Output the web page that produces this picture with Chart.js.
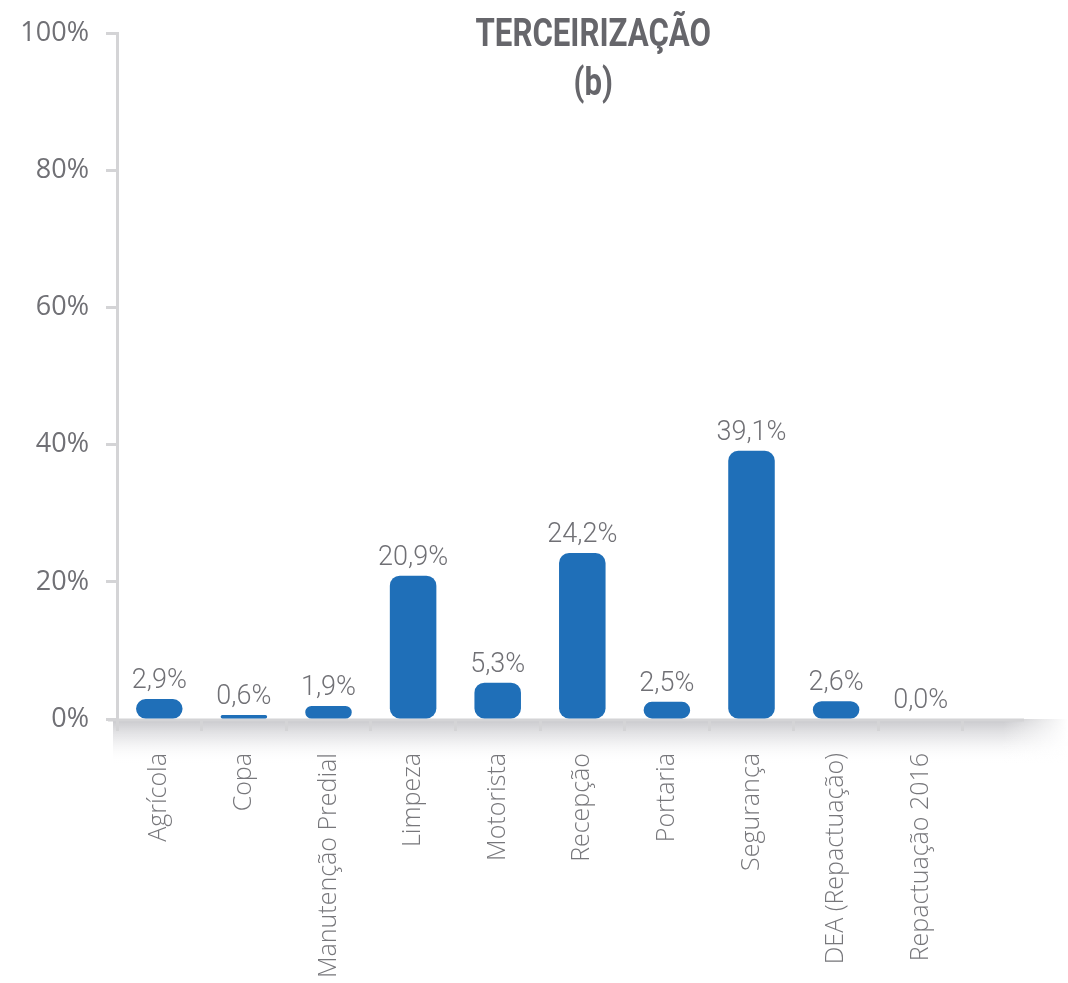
<!DOCTYPE html>
<html>
<head>
<meta charset="utf-8">
<title>Terceirização (b)</title>
<script src="https://cdn.jsdelivr.net/npm/chart.js@4.4.1/dist/chart.umd.min.js"></script>
<style>
  html, body { margin: 0; padding: 0; background: #fff; }
  #wrap { width: 1068px; height: 983px; position: relative; }
</style>
</head>
<body>
<div id="wrap"><canvas id="chart"></canvas></div>
<script>
const categories = ['Agrícola', 'Copa', 'Manutenção Predial', 'Limpeza', 'Motorista',
  'Recepção', 'Portaria', 'Segurança', 'DEA (Repactuação)', 'Repactuação 2016'];
const shares = [2.9, 0.6, 1.9, 20.9, 5.3, 24.2, 2.5, 39.1, 2.6, 0.0];
const yTicks = [0, 20, 40, 60, 80, 100];
const titleLines = ['TERCEIRIZAÇÃO', '(b)'];

const axisGray = '#d4d4d6';
const textGray = '#707075';

const fmt = v => v.toFixed(1).replace('.', ',') + '%';

// shadow band under the x axis + axis line extended past the last category
const floorPlugin = {
  id: 'floor',
  beforeDraw(chart) {
    const { ctx, chartArea: a } = chart;
    ctx.save();
    const g = ctx.createLinearGradient(0, a.bottom, 0, a.bottom + 44);
    g.addColorStop(0, 'rgba(160,160,166,0.6)');
    g.addColorStop(0.5, 'rgba(200,200,205,0.3)');
    g.addColorStop(1, 'rgba(255,255,255,0)');
    ctx.fillStyle = g;
    ctx.fillRect(a.left - 4, a.bottom, chart.width - a.left + 4, 44);
    const h = ctx.createLinearGradient(a.right + 40, 0, chart.width, 0);
    h.addColorStop(0, 'rgba(255,255,255,0)');
    h.addColorStop(1, 'rgba(255,255,255,1)');
    ctx.fillStyle = h;
    ctx.fillRect(a.right + 40, a.bottom, chart.width - a.right - 40, 44);
    ctx.restore();
  },
  beforeDatasetsDraw(chart) {
    const { ctx, chartArea: a } = chart;
    ctx.save();
    ctx.strokeStyle = axisGray;
    ctx.lineWidth = 3;
    ctx.beginPath();
    ctx.moveTo(a.left - 9, a.bottom + 1);
    ctx.lineTo(a.right + 61, a.bottom + 1);
    ctx.stroke();
    ctx.restore();
  }
};

const labelPlugin = {
  id: 'valueLabels',
  afterDatasetsDraw(chart) {
    const { ctx } = chart;
    const meta = chart.getDatasetMeta(0);
    ctx.save();
    ctx.font = '300 27px Roboto, "Open Sans", sans-serif';
    ctx.fillStyle = textGray;
    ctx.textAlign = 'center';
    ctx.textBaseline = 'alphabetic';
    meta.data.forEach((bar, i) => {
      ctx.fillText(fmt(shares[i]), bar.x, bar.y - 11);
    });
    ctx.restore();
  }
};

// condensed bold title, squeezed horizontally
const titlePlugin = {
  id: 'bigTitle',
  afterDraw(chart) {
    const { ctx, chartArea: a } = chart;
    const cx = a.left + (a.right - a.left) * 0.563;
    ctx.save();
    ctx.fillStyle = '#66666b';
    ctx.font = 'bold 39px Roboto, sans-serif';
    ctx.textAlign = 'center';
    ctx.textBaseline = 'alphabetic';
    ctx.translate(cx, 0);
    ctx.scale(0.8, 1);
    ctx.fillText(titleLines[0], 0, 46);
    ctx.fillText(titleLines[1], 0, 95);
    ctx.restore();
  }
};

new Chart(document.getElementById('chart'), {
  type: 'bar',
  data: {
    labels: categories,
    datasets: [{
      data: shares,
      backgroundColor: '#1f6fb8',
      borderRadius: 10,
      borderSkipped: false,
      barPercentage: 0.55,
      categoryPercentage: 1.0
    }]
  },
  options: {
    responsive: true,
    maintainAspectRatio: false,
    animation: false,
    layout: { padding: { top: 32, right: 105, left: 0, bottom: 0 } },
    plugins: {
      legend: { display: false },
      tooltip: { enabled: false }
    },
    scales: {
      x: {
        border: { display: false },
        grid: {
          offset: true,
          drawOnChartArea: false,
          drawTicks: true,
          tickLength: 12,
          tickWidth: 3,
          tickColor: axisGray
        },
        ticks: {
          maxRotation: 90,
          minRotation: 90,
          padding: 22,
          color: '#77777b',
          font: { family: '"Open Sans", sans-serif', size: 25, weight: '300' }
        },
        afterFit(scale) { scale.height = 983 - 719; }
      },
      y: {
        min: 0,
        max: 100,
        afterBuildTicks(scale) { scale.ticks = yTicks.map(v => ({ value: v })); },
        border: { display: true, color: axisGray, width: 3 },
        grid: {
          drawOnChartArea: false,
          drawTicks: true,
          tickLength: 11,
          tickWidth: 3,
          tickColor: axisGray
        },
        ticks: {
          padding: 17,
          color: textGray,
          font: { family: '"Open Sans", sans-serif', size: 27 },
          callback: v => v + '%'
        },
        afterFit(scale) { scale.width = 117; }
      }
    }
  },
  plugins: [floorPlugin, labelPlugin, titlePlugin]
});
</script>
</body>
</html>
